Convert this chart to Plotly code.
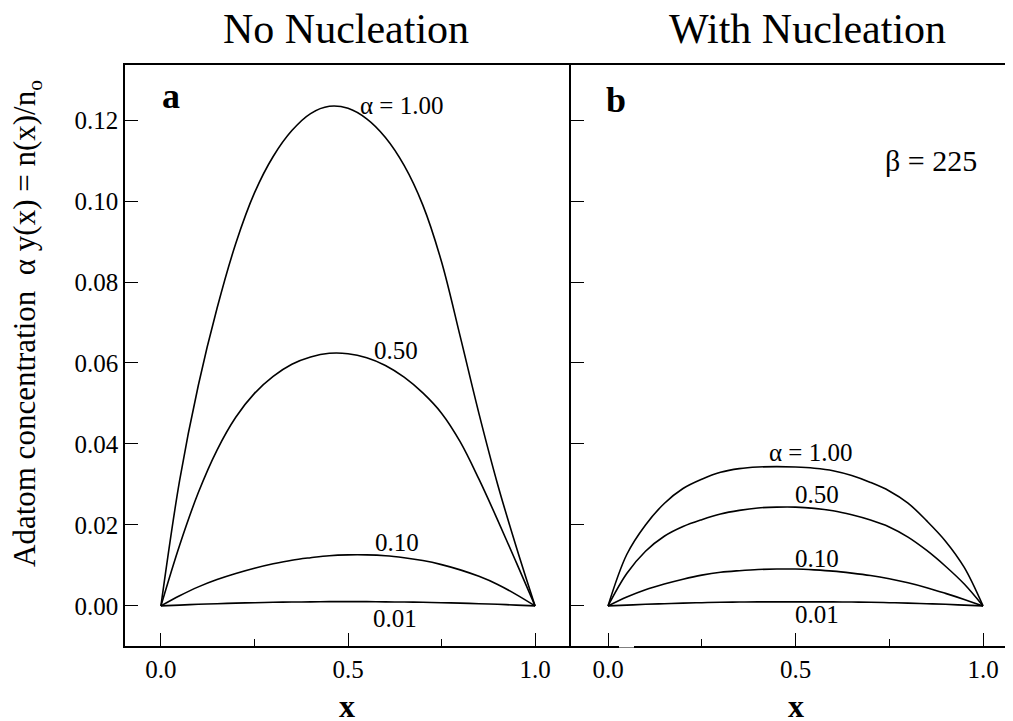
import plotly.graph_objects as go

# ---------------- data ----------------
x_vals = [0.00, 0.05, 0.10, 0.15, 0.20, 0.25, 0.30, 0.35, 0.40, 0.45, 0.50,
          0.55, 0.60, 0.65, 0.70, 0.75, 0.80, 0.85, 0.90, 0.95, 1.00]

# Panel a: no nucleation
a_alpha_100 = [0, 0.0310, 0.0545, 0.0735, 0.0895, 0.1020, 0.1110, 0.1174, 0.1216, 0.1234, 0.1229,
               0.1203, 0.1157, 0.1088, 0.0990, 0.0850, 0.0665, 0.0475, 0.0300, 0.0145, 0]
a_alpha_050 = [0, 0.0150, 0.0280, 0.0385, 0.0466, 0.0525, 0.0567, 0.0597, 0.0615, 0.0624, 0.0623,
               0.0613, 0.0594, 0.0565, 0.0526, 0.0476, 0.0405, 0.0313, 0.0212, 0.0107, 0]
a_alpha_010 = [0, 0.0025, 0.0047, 0.0065, 0.0080, 0.0093, 0.0104, 0.0113, 0.0119, 0.0124, 0.0126,
               0.0126, 0.0124, 0.0119, 0.0112, 0.0102, 0.0089, 0.0073, 0.0053, 0.0028, 0]
a_alpha_001 = [0, 0.0002, 0.0004, 0.00055, 0.0007, 0.0008, 0.0009, 0.00095, 0.0010, 0.00105, 0.00105,
               0.00105, 0.0010, 0.00095, 0.0009, 0.0008, 0.0007, 0.00055, 0.0004, 0.0002, 0]

# Panel b: with nucleation (beta = 225)
b_alpha_100 = [0, 0.0127, 0.0200, 0.0253, 0.0290, 0.0313, 0.0330, 0.0339, 0.0343, 0.0344, 0.0343,
               0.0340, 0.0334, 0.0322, 0.0305, 0.0284, 0.0254, 0.0210, 0.0160, 0.0095, 0]
b_alpha_050 = [0, 0.0080, 0.0135, 0.0172, 0.0196, 0.0213, 0.0227, 0.0236, 0.0242, 0.0244, 0.0244,
               0.0241, 0.0235, 0.0225, 0.0212, 0.0195, 0.0170, 0.0137, 0.0098, 0.0054, 0]
b_alpha_010 = [0, 0.0022, 0.0040, 0.0054, 0.0066, 0.0076, 0.0083, 0.0087, 0.0090, 0.0091, 0.0091,
               0.0089, 0.0086, 0.0081, 0.0075, 0.0067, 0.0057, 0.0045, 0.0031, 0.0016, 0]
b_alpha_001 = [0, 0.0002, 0.0004, 0.00055, 0.0007, 0.0008, 0.0009, 0.00095, 0.0010, 0.00100, 0.00100,
               0.00100, 0.0010, 0.00095, 0.0009, 0.0008, 0.0007, 0.00055, 0.0004, 0.0002, 0]

y_tickvals = [0.00, 0.02, 0.04, 0.06, 0.08, 0.10, 0.12]
x_tickvals = [0.0, 0.5, 1.0]
x_minor = [0.25, 0.75]

panel_titles = ["No Nucleation", "With Nucleation"]
curve_labels_a = ["α = 1.00", "0.50", "0.10", "0.01"]
curve_labels_b = ["α = 1.00", "0.50", "0.10", "0.01"]

FONT = "Liberation Serif, Times New Roman, serif"
OFF = 8                      # page body margin
W, H = 1013 - OFF, 721 - OFF

def px(xp):                  # page pixel -> paper fraction
    return (xp - OFF) / W

def py(yp):
    return 1 - (yp - OFF) / H

fig = go.Figure()

LINE = dict(color="black", width=1.6, shape="spline", smoothing=1.0)
for ys in [a_alpha_100, a_alpha_050, a_alpha_010, a_alpha_001]:
    fig.add_trace(go.Scatter(x=x_vals, y=ys, mode="lines", xaxis="x", yaxis="y",
                             line=LINE, showlegend=False, hoverinfo="skip"))
for ys in [b_alpha_100, b_alpha_050, b_alpha_010, b_alpha_001]:
    fig.add_trace(go.Scatter(x=x_vals, y=ys, mode="lines", xaxis="x2", yaxis="y2",
                             line=LINE, showlegend=False, hoverinfo="skip"))

ydom = [py(646), py(65)]
yrange = [-0.0099, 0.1336]
TICKFONT = dict(family=FONT, size=25, color="black")

common_x = dict(
    showline=True, linecolor="black", linewidth=1.5, mirror=True,
    ticks="inside", ticklen=13, tickwidth=1.3, tickcolor="black",
    tickvals=x_tickvals, tickformat=".1f",
    minor=dict(tickvals=x_minor, ticks="inside", ticklen=7, tickwidth=1.3, tickcolor="black"),
    showgrid=False, zeroline=False,
    tickfont=TICKFONT,
    ticklabelstandoff=0,
)

fig.update_layout(
    width=W, height=H,
    margin=dict(l=0, r=0, t=0, b=0),
    paper_bgcolor="white", plot_bgcolor="white",
    font=dict(family=FONT, color="black"),
    xaxis=dict(domain=[px(125), px(571)], range=[-0.096, 1.096], anchor="y", **common_x),
    xaxis2=dict(domain=[px(571), 1.0], range=[-0.0987, 1.08], anchor="y2", **common_x),
    yaxis=dict(domain=ydom, range=yrange, anchor="x",
               showline=True, linecolor="black", linewidth=1.5, mirror=False,
               ticks="inside", ticklen=13, tickwidth=1.3, tickcolor="black",
               tickvals=y_tickvals, tickformat=".2f",
               showgrid=False, zeroline=False,
               tickfont=TICKFONT, ticklabelstandoff=0),
    yaxis2=dict(domain=ydom, range=yrange, anchor="x2",
                showline=True, linecolor="black", linewidth=1.5, mirror=False,
                ticks="inside", ticklen=13, tickwidth=1.3, tickcolor="black",
                tickvals=y_tickvals, showticklabels=False,
                showgrid=False, zeroline=False),
)

def A(text, x, y, size, xref="paper", yref="paper", **kw):
    return dict(text=text, x=x, y=y, xref=xref, yref=yref, showarrow=False,
                xanchor="center", yanchor="middle",
                font=dict(family=FONT, size=size, color="black"), **kw)

ann = []
# panel titles
ann.append(A(panel_titles[0], px(346), py(29), 42))
ann.append(A(panel_titles[1], px(807), py(29), 42))
# axis titles
ann.append(A("<b>x</b>", px(347), py(706), 32))
ann.append(A("<b>x</b>", px(796), py(706), 32))
ann.append(A("Adatom concentration\u00a0\u00a0α y(x) = n(x)/n<sub>o</sub>",
             px(27), py(324), 31, textangle=-90))
# panel letters and parameter
ann.append(A("<b>a</b>", 0.027, 0.126, 36, xref="x", yref="y"))
ann.append(A("<b>b</b>", 0.021, 0.125, 36, xref="x2", yref="y2"))
ann.append(A("β = 225", 0.861, 0.110, 30, xref="x2", yref="y2"))

# curve labels
a_pos = [(0.642, 0.1237), (0.628, 0.063), (0.631, 0.0156), (0.626, -0.003)]
b_pos = [(0.541, 0.038), (0.557, 0.0274), (0.557, 0.0116), (0.557, -0.002)]
for t, (xx, yy) in zip(curve_labels_a, a_pos):
    ann.append(A(t, xx, yy, 25, xref="x", yref="y"))
for t, (xx, yy) in zip(curve_labels_b, b_pos):
    ann.append(A(t, xx, yy, 25, xref="x2", yref="y2"))

fig.update_layout(annotations=ann)

# small gap in panel b's bottom axis line (as in the original scan)
fig.add_shape(type="line", xref="paper", yref="paper",
              x0=px(619), x1=px(634), y0=py(646), y1=py(646),
              line=dict(color="white", width=3))

fig.write_html("out.html")
